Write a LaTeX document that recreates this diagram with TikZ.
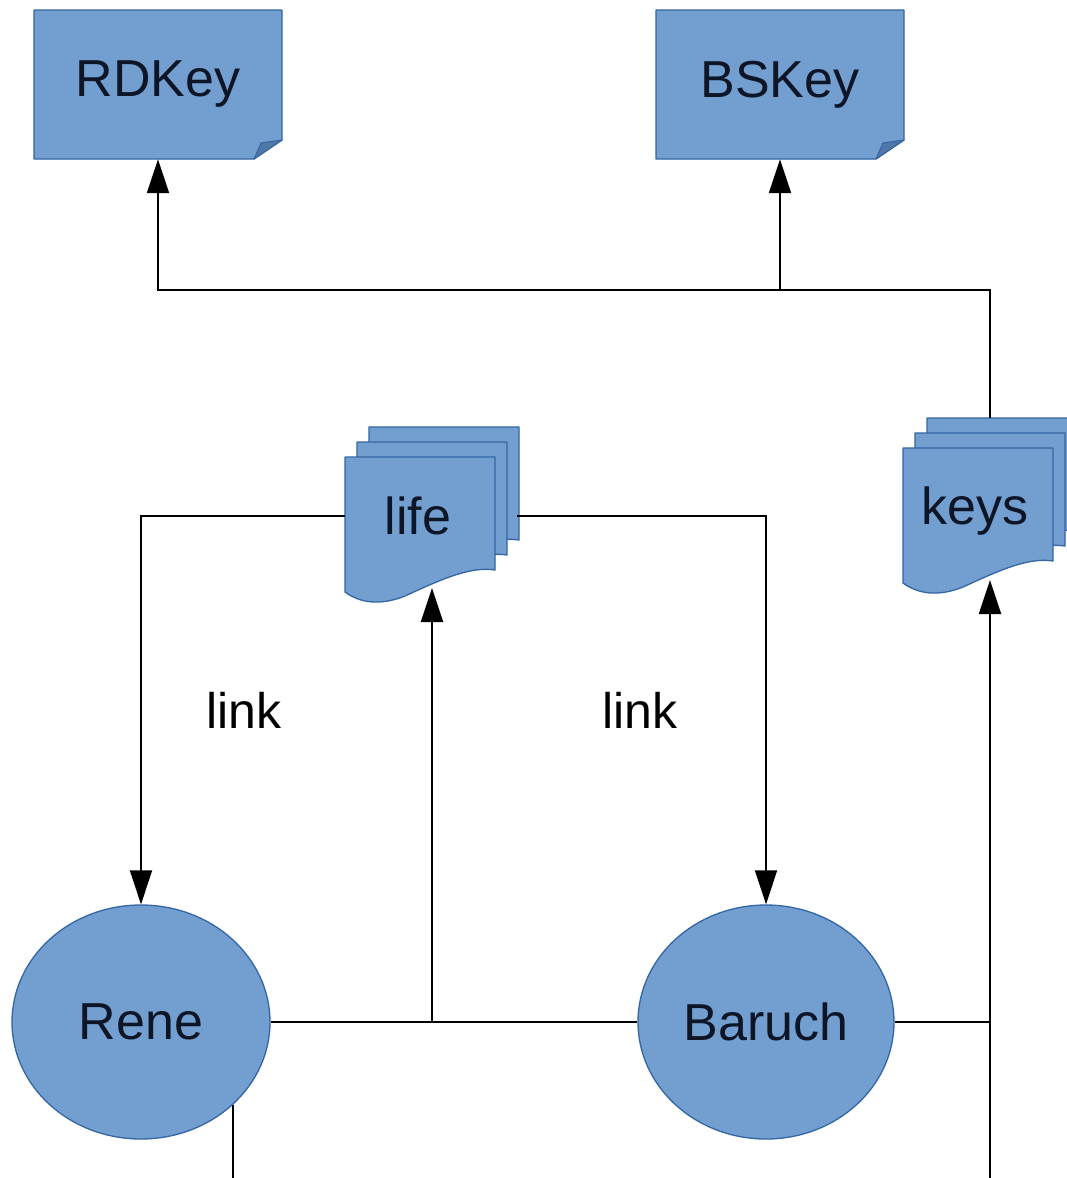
\documentclass[tikz,border=0pt]{standalone}
\usepackage{fontspec}
\setmainfont{Liberation Sans}
\usetikzlibrary{arrows.meta,shapes.geometric}
\definecolor{boxfill}{HTML}{729FCF}
\definecolor{boxline}{HTML}{3465A4}
\definecolor{foldfill}{HTML}{4F77A8}
\definecolor{inkblue}{HTML}{0E1526}

\tikzset{
  bluebody/.style={fill=boxfill, draw=boxline, line width=1.3pt, line join=round},
  bigtext/.style={font=\fontsize{52}{60}\selectfont, text=inkblue, inner sep=0pt},
  frame/.style={draw=none, inner sep=0pt},
  conn/.style={draw=black, line width=2pt},
  arr/.style={conn, -{Triangle[length=34pt,width=22pt]}},
  % one page of a stacked document, top-left corner at the origin
  docpage/.pic={
    \path[bluebody] (0,0) -- (150,0) -- (150,113)
      .. controls (125,109) and (95,123) .. (60,139)
      .. controls (35,149) and (15,146) .. (0,135) -- cycle;
  },
  docstack/.pic={
    \pic at (24,-30) {docpage};
    \pic at (12,-15) {docpage};
    \pic at (0,0) {docpage};
  },
}

\begin{document}
\begin{tikzpicture}[x=1pt, y=-1pt]
  \useasboundingbox[fill=white] (0,0) rectangle (1067,1178);

  % ---- note boxes with a folded corner ----
  \path[bluebody] (34,10) -- (282,10) -- (282,140) -- (254,159) -- (34,159) -- cycle;
  \path[fill=foldfill, draw=boxline, line width=1pt, line join=round]
    (282,140) -- (254,159) -- (261,143) -- cycle;
  \node[frame, bigtext, minimum width=248pt, minimum height=149pt] (rdkey) at (158,84.5) {RDKey};

  \path[bluebody] (656,10) -- (904,10) -- (904,140) -- (876,159) -- (656,159) -- cycle;
  \path[fill=foldfill, draw=boxline, line width=1pt, line join=round]
    (904,140) -- (876,159) -- (883,143) -- cycle;
  \node[frame, bigtext, minimum width=248pt, minimum height=149pt] (bskey) at (780,84.5) {BSKey};

  % ---- stacked documents ----
  \pic at (345,457) {docstack};
  \node[frame, minimum width=172pt, minimum height=120pt] (life) at (431,516) {};
  \node[bigtext] (lifelabel) at (418,516) {life};
  \coordinate (lifein) at (432,588);

  \pic at (903,448) {docstack};
  \node[bigtext] (keys) at (975,511) {keys};
  \coordinate (keystop) at (990,418);
  \coordinate (keysin) at (990,580);

  % ---- people ----
  \node[ellipse, fill=boxfill, draw=boxline, line width=1.3pt, bigtext,
        minimum width=258pt, minimum height=234pt] (rene) at (141,1022) {Rene};
  \node[ellipse, fill=boxfill, draw=boxline, line width=1.3pt, bigtext,
        minimum width=256pt, minimum height=234pt] (baruch) at (766,1022) {Baruch};

  % ---- labels ----
  \node[font=\fontsize{50}{60}\selectfont, inner sep=0pt] (linkA) at (244,710) {link};
  \node[font=\fontsize{50}{60}\selectfont, inner sep=0pt] (linkB) at (640,710) {link};

  % ---- connectors ----
  \coordinate (keybus) at (990,290);
  \coordinate (bsjoin) at (780,290);
  \draw[conn] (keystop) -- (keybus) -- (bsjoin);
  \draw[arr] (bsjoin) -| (rdkey.south);
  \draw[arr] (bsjoin) -- (bskey.south);

  \draw[arr] (life.west) -| (rene.north);
  \draw[arr] (life.east) -| (baruch.north);

  \coordinate (lifejoin) at (432,1022);
  \draw[conn] (rene.east) -- (baruch.west);
  \draw[arr] (lifejoin) -- (lifein);

  \coordinate (keysfoot) at (990,1178);
  \coordinate (keysjoin) at (990,1022);
  \draw[conn] (baruch.east) -- (keysjoin);
  \draw[arr] (keysfoot) -- (keysin);

  \coordinate (renefoot) at (232,1178);
  \draw[conn] (rene.-42.4) -- (rene.-42.4 |- renefoot);
\end{tikzpicture}
\end{document}
